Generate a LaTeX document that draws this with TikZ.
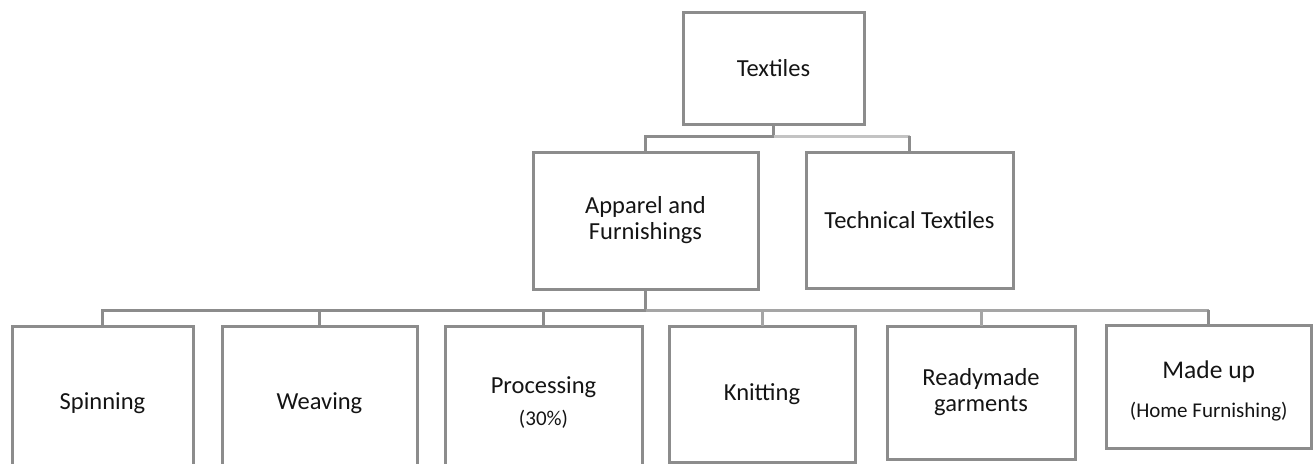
\documentclass[tikz,border=0pt]{standalone}
\usepackage{fontspec}
\setmainfont{Carlito}
\definecolor{ln}{RGB}{140,140,140}
\definecolor{lnm}{RGB}{165,165,165}
\definecolor{lnl}{RGB}{195,195,195}
\definecolor{tx}{RGB}{20,20,20}
\begin{document}
\begin{tikzpicture}[x=1pt,y=-1pt,
  box/.style={draw=ln,line width=3pt,rectangle,inner sep=0pt,outer sep=0pt,
    text=tx,align=center,font=\fontsize{24.5}{26}\selectfont},
  conn/.style={draw=ln,line width=3pt},
  connm/.style={draw=lnm,line width=3pt},
  connl/.style={draw=lnl,line width=3pt}]
\useasboundingbox (0,0) rectangle (1313,463);
\clip (0,0) rectangle (1313,463);
% level 1
\node[box,minimum width=181pt,minimum height=112pt] (t) at (773.5,68) {Textiles};
% level 2
\node[box,minimum width=225pt,minimum height=137pt] (af) at (645.5,220.5) {Apparel and\\Furnishings};
\node[box,minimum width=207pt,minimum height=136pt] (tt) at (909.5,220) {Technical Textiles};
% level 3
\node[box,minimum width=181pt,minimum height=154pt] (sp) at (102.5,403) {Spinning};
\node[box,minimum width=195pt,minimum height=154pt] (wv) at (319.5,403) {Weaving};
\node[box,minimum width=197pt,minimum height=154pt] (pr) at (543.5,403) {Processing\\[6pt]{\fontsize{21}{24}\selectfont(30\%)}};
\node[box,minimum width=186pt,minimum height=136pt] (kn) at (762,394) {Knitting};
\node[box,minimum width=188pt,minimum height=133pt] (rg) at (981,392.5) {Readymade\\garments};
\node[box,minimum width=205.5pt,minimum height=123pt] (mu) at (1208.75,386.5) {{\fontsize{25.5}{28}\selectfont\rule{0pt}{27pt}Made up}\\[13pt]{\fontsize{21}{24}\selectfont(Home Furnishing)}};
% connectors level 1 -> 2
\draw[conn] (t.south) -- ++(0,12) coordinate (b1);
\draw[conn] (b1) -| (af.north);
\draw[connl] (b1) -- (b1 -| tt.north);
\draw[conn] (b1 -| tt.north) -- (tt.north);
% connectors level 2 -> 3
\draw[conn] (af.south) -- ++(0,21) coordinate (b2);
\draw[conn] (b2) -| (sp.north);
\draw[conn] (b2) -| (wv.north);
\draw[conn] (b2) -| (pr.north);
\draw[connm] (b2) -- (b2 -| mu.north);
\draw[connm] (b2 -| kn.north) -- (kn.north);
\draw[connm] (b2 -| rg.north) -- (rg.north);
\draw[conn] (b2 -| mu.north) -- (mu.north);
\end{tikzpicture}
\end{document}
